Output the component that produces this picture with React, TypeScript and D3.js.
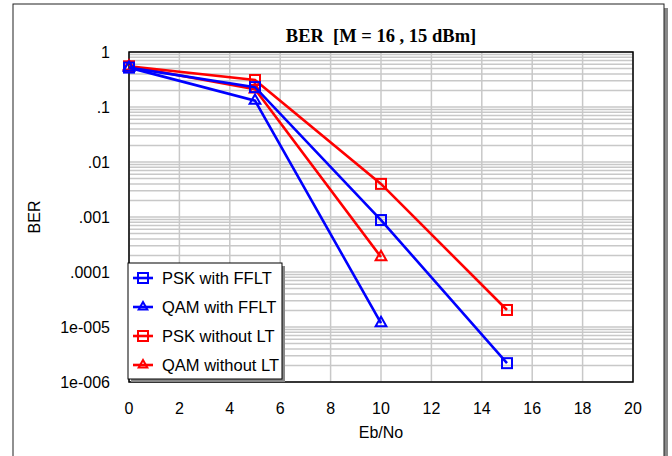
import React from 'react';
import * as d3 from 'd3';

// Eb/No points and BER values per series
const pskFfltX = [0, 5, 10, 15];
const pskFfltY = [0.52, 0.23, 0.00088, 0.0000022];
const qamFfltX = [0, 5, 10];
const qamFfltY = [0.52, 0.13, 0.0000118];
const pskNoLtX = [0, 5, 10, 15];
const pskNoLtY = [0.55, 0.31, 0.004, 0.0000204];
const qamNoLtX = [0, 5, 10];
const qamNoLtY = [0.55, 0.21, 0.000187];

const seriesNames = ['PSK with FFLT', 'QAM with FFLT', 'PSK without LT', 'QAM without LT'];
const seriesColors = ['#0000ff', '#0000ff', '#ff0000', '#ff0000'];
const seriesMarkers = ['square', 'triangle', 'square', 'triangle'];

const xTicks = [0, 2, 4, 6, 8, 10, 12, 14, 16, 18, 20];
const yTicks = [1, 0.1, 0.01, 0.001, 0.0001, 0.00001, 0.000001];
const yTickLabels = ['1', '.1', '.01', '.001', '.0001', '1e-005', '1e-006'];

const W = 672;
const H = 456;
const margin = { left: 129, top: 52, right: 39, bottom: 74 };

const x = d3.scaleLinear().domain([0, 20]).range([margin.left, W - margin.right]);
const y = d3.scaleLog().domain([1e-6, 1]).range([H - margin.bottom, margin.top]);

const sans = "'Liberation Sans', Arial, sans-serif";

function Marker({ kind, cx, cy, color, size = 10 }: { kind: string; cx: number; cy: number; color: string; size?: number }) {
  if (kind === 'square') {
    return <rect x={cx - size / 2} y={cy - size / 2} width={size} height={size} fill="none" stroke={color} strokeWidth={2} />;
  }
  const sym = d3.symbol().type(d3.symbolTriangle).size(size * size * 0.5)();
  return <path d={sym || ''} transform={`translate(${cx},${cy})`} fill="none" stroke={color} strokeWidth={2} />;
}

export default function App() {
  const series = [
    { xs: pskFfltX, ys: pskFfltY },
    { xs: qamFfltX, ys: qamFfltY },
    { xs: pskNoLtX, ys: pskNoLtY },
    { xs: qamNoLtX, ys: qamNoLtY },
  ];

  const line = d3
    .line<[number, number]>()
    .x((d) => x(d[0]))
    .y((d) => y(d[1]));

  // minor log grid: 1..9 per decade
  const minor: number[] = [];
  for (let e = -6; e < 0; e++) {
    for (let m = 1; m < 10; m++) minor.push(m * Math.pow(10, e));
  }
  minor.push(1);

  const [x0, x1] = x.range();
  const [yb, yt] = y.range();

  // red series sit underneath the blue ones
  const drawOrder = [3, 2, 1, 0];

  return (
    <svg width={W} height={H} style={{ position: 'absolute', left: 0, top: 0, background: '#fff' }}>
      {/* outer frame with shadow */}
      <rect x={17} y={8} width={651} height={470} fill="#888" />
      <rect x={13} y={4} width={651} height={470} fill="#fff" stroke="#222" strokeWidth={1} />

      <text
        x={381}
        y={42}
        textAnchor="middle"
        fontFamily="'Liberation Serif', 'Times New Roman', serif"
        fontWeight="bold"
        fontSize={18.5}
        style={{ whiteSpace: 'pre' }}
      >
        {'BER  [M = 16 , 15 dBm]'}
      </text>

      {/* grid */}
      <g stroke="#c8c8c8" strokeWidth={1.5}>
        {minor.map((v, i) => (
          <line key={'h' + i} x1={x0} x2={x1} y1={y(v)} y2={y(v)} />
        ))}
        {xTicks.map((t) => (
          <line key={'v' + t} x1={x(t)} x2={x(t)} y1={yt} y2={yb} />
        ))}
      </g>
      <rect x={x0} y={yt} width={x1 - x0} height={yb - yt} fill="none" stroke="#000" strokeWidth={1.5} />

      {/* tick labels */}
      <g fontFamily={sans} fontSize={16} fill="#000">
        {yTicks.map((t, i) => (
          <text key={t} x={110} y={y(t)} dy="0.35em" textAnchor="end">
            {yTickLabels[i]}
          </text>
        ))}
        {xTicks.map((t) => (
          <text key={t} x={x(t)} y={414} textAnchor="middle">
            {t}
          </text>
        ))}
        <text x={x(10)} y={438} textAnchor="middle">Eb/No</text>
        <text transform={`translate(40,${(yt + yb) / 2}) rotate(-90)`} textAnchor="middle">BER</text>
      </g>

      {/* series */}
      {drawOrder.map((i) => {
        const s = series[i];
        const pts = s.xs.map((v, j) => [v, s.ys[j]] as [number, number]);
        return (
          <g key={i}>
            <path d={line(pts) || ''} fill="none" stroke={seriesColors[i]} strokeWidth={2.6} />
            {pts.map((p, j) => (
              <Marker key={j} kind={seriesMarkers[i]} cx={x(p[0])} cy={y(p[1])} color={seriesColors[i]} />
            ))}
          </g>
        );
      })}

      {/* legend */}
      <g>
        <rect x={131} y={266} width={154} height={116} fill="#888" />
        <rect x={128} y={263} width={154} height={116} fill="#fff" stroke="#000" strokeWidth={1} />
        {seriesNames.map((name, i) => {
          const ly = 278 + i * 29;
          return (
            <g key={name}>
              <line x1={133} x2={153} y1={ly} y2={ly} stroke={seriesColors[i]} strokeWidth={2.6} />
              <Marker kind={seriesMarkers[i]} cx={143} cy={ly} color={seriesColors[i]} size={seriesMarkers[i] === 'square' ? 10 : 8} />
              <text x={162} y={ly} dy="0.35em" fontFamily={sans} fontSize={16.5}>
                {name}
              </text>
            </g>
          );
        })}
      </g>
    </svg>
  );
}
